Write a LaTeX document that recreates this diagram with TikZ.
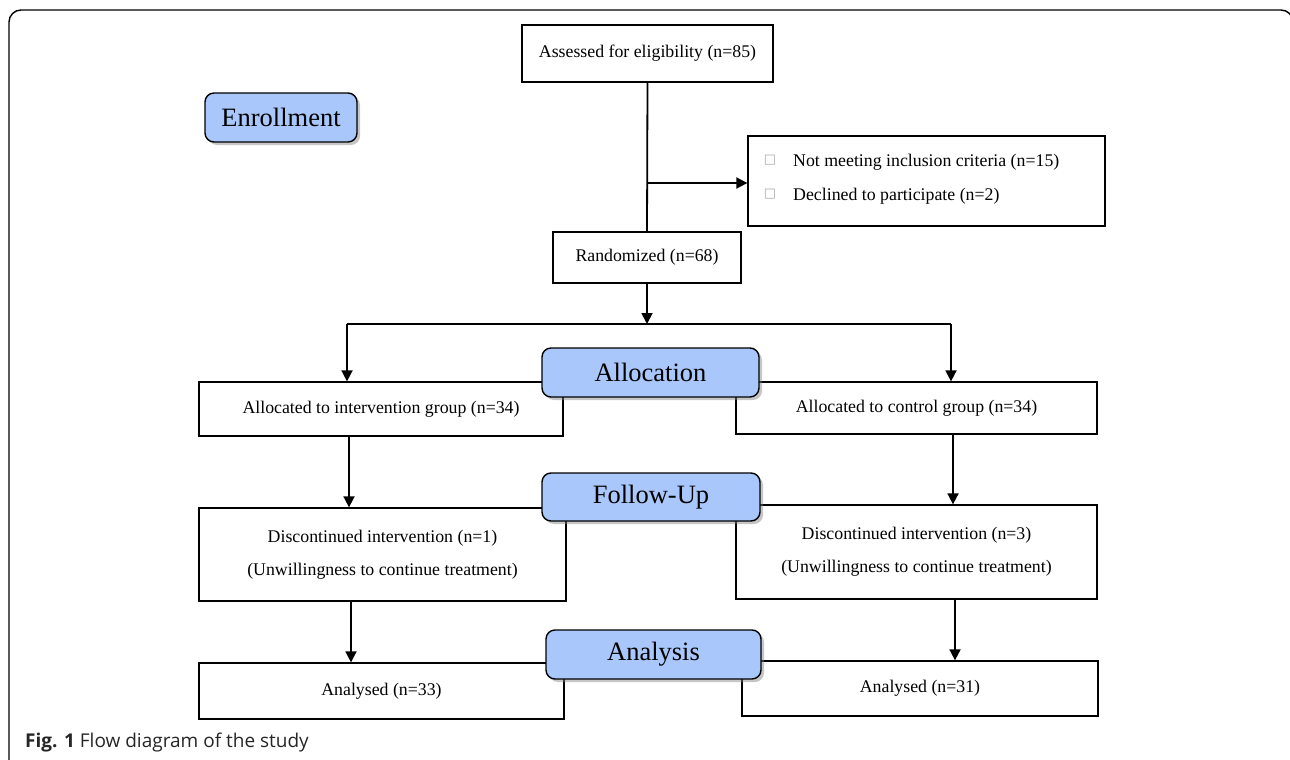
\documentclass[tikz,border=0pt]{standalone}
\usepackage{fontspec}
\setmainfont{Liberation Serif}
\newfontfamily\capfont{Open Sans}
\newfontfamily\symfont{DejaVu Sans}
\usetikzlibrary{arrows.meta,shadows,calc}
\definecolor{labelblue}{RGB}{169,199,250}
\definecolor{glyphgray}{RGB}{170,170,170}
\tikzset{
  box/.style={draw=black, line width=1.3pt, fill=white, inner sep=0pt, align=center,
    font=\fontsize{17.8}{33}\selectfont},
  stage/.style={draw=black, line width=1.4pt, fill=labelblue, rounded corners=9pt, inner sep=0pt,
    font=\fontsize{26.5}{30}\selectfont,
    drop shadow={opacity=0.45, shadow xshift=3pt, shadow yshift=-3pt}},
  conn/.style={line width=1.8pt},
  arr/.style={line width=1.8pt, -{Triangle[length=11pt,width=11pt]}},
  frame/.style={line width=1.4pt, rounded corners=12pt},
}
\begin{document}
\begin{tikzpicture}[x=1pt,y=-1pt]
\useasboundingbox (0,0) rectangle (1290,760);
\begin{scope}
\clip (0,0) rectangle (1290,760);
\draw[frame] (9,800) -- (9,10) -- (1293,10) -- (1293,800);
\end{scope}

% boxes
\node[box, minimum width=251pt, minimum height=57pt] (assess) at (647.5,53.5) {Assessed for eligibility (n=85)};
\node[box, minimum width=357pt, minimum height=90pt] (excl) at (926.5,181) {};
\node[box, minimum width=188pt, minimum height=51pt] (rand) at (647,257.5) {Randomized (n=68)};
\node[box, minimum width=364pt, minimum height=54pt] (allocI) at (381,409) {Allocated to intervention group (n=34)};
\node[box, minimum width=361pt, minimum height=52pt] (allocC) at (916.5,408) {Allocated to control group (n=34)};
\node[box, minimum width=367pt, minimum height=93pt] (discI) at (382.5,554.5) {Discontinued intervention (n=1)\\(Unwillingness to continue treatment)};
\node[box, minimum width=361pt, minimum height=94pt] (discC) at (916.5,552) {Discontinued intervention (n=3)\\(Unwillingness to continue treatment)};
\node[box, minimum width=365pt, minimum height=56pt] (anaI) at (381.5,691) {Analysed (n=33)};
\node[box, minimum width=356pt, minimum height=55pt] (anaC) at (920,688.5) {Analysed (n=31)};

% exclusion text
\node[anchor=west, inner sep=0pt, font=\fontsize{17.8}{20}\selectfont] (ex1) at (793,162) {Not meeting inclusion criteria (n=15)};
\node[anchor=west, inner sep=0pt, font=\fontsize{17.8}{20}\selectfont] (ex2) at (793,196) {Declined to participate (n=2)};
\node[inner sep=0pt, text=glyphgray, font=\symfont\fontsize{13}{15}\selectfont] (g1) at (770,160) {□};
\node[inner sep=0pt, text=glyphgray, font=\symfont\fontsize{13}{15}\selectfont] (g2) at (770,194) {□};

% connectors
\coordinate (j1) at (647,183);
\coordinate (j2) at (647,324);
\coordinate (bl) at (347,324);
\coordinate (br) at (951,324);
\coordinate (xa) at (349,0);
\coordinate (xb) at (953,0);
\coordinate (xc) at (351,0);
\coordinate (xd) at (955,0);

\draw[conn] (assess.south) -- (rand.north);
\draw[arr] (j1) -- (j1 -| excl.west);
\draw[arr] (rand.south) -- (j2);
\draw[conn] (bl) -- (br);
\draw[line width=2.8pt] (597,324) -- (702,324);
\draw[arr] (bl) -- (bl |- allocI.north);
\draw[arr] (br) -- (br |- allocC.north);
\draw[arr] (xa |- allocI.south) -- (xa |- discI.north);
\draw[arr] (xb |- allocC.south) -- (xb |- discC.north);
\draw[arr] (xc |- discI.south) -- (xc |- anaI.north);
\draw[arr] (xd |- discC.south) -- (xd |- anaC.north);

% stage labels
\node[stage, minimum width=152pt, minimum height=49pt] (enroll) at (281,117.5) {Enrollment};
\node[stage, minimum width=217pt, minimum height=49pt] (allocS) at (650.5,372.5) {Allocation};
\node[stage, minimum width=218pt, minimum height=48pt] (followS) at (651,497) {Follow-Up};
\node[stage, minimum width=215pt, minimum height=49pt] (anaS) at (653.5,654.5) {Analysis};

% caption
\node[anchor=west, inner sep=0pt, font=\capfont\fontsize{19}{22}\selectfont, text=black!85] (cap) at (25,743) {\textbf{Fig. 1} Flow diagram of the study};
\end{tikzpicture}
\end{document}
